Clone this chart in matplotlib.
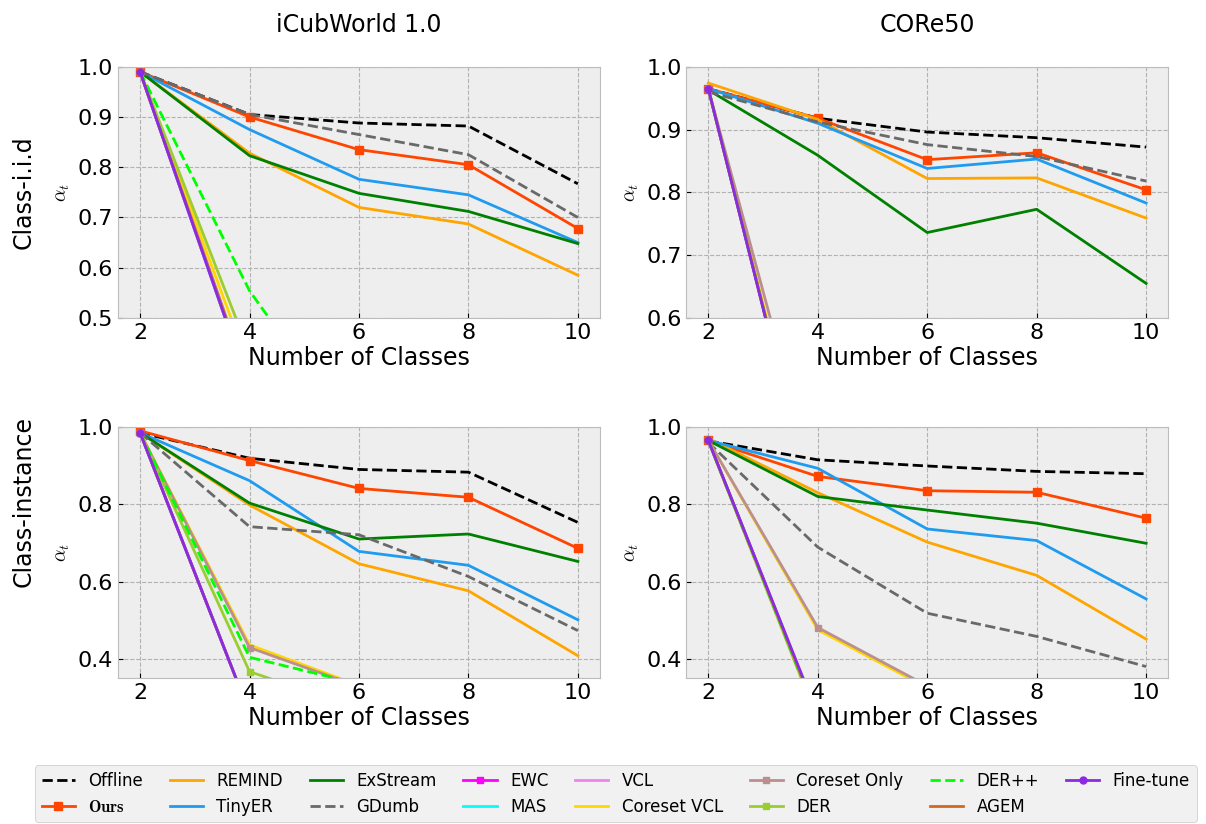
import numpy as np
import matplotlib
matplotlib.use('Agg')
import matplotlib.pyplot as plt

plt.style.use('bmh')

classes = [2, 4, 6, 8, 10]

methods = ['Offline', 'Ours', 'REMIND', 'TinyER', 'ExStream', 'GDumb', 'EWC', 'MAS',
           'VCL', 'Coreset VCL', 'Coreset Only', 'DER', 'DER++', 'AGEM', 'Fine-tune']

# values (points below the axis are rough guesses)
icub_iid = {
    'Offline':      [0.990, 0.905, 0.888, 0.882, 0.767],
    'Ours':         [0.990, 0.900, 0.835, 0.805, 0.678],
    'REMIND':       [0.990, 0.828, 0.720, 0.687, 0.585],
    'TinyER':       [0.990, 0.875, 0.776, 0.745, 0.650],
    'ExStream':     [0.990, 0.823, 0.748, 0.712, 0.648],
    'GDumb':        [0.990, 0.905, 0.865, 0.825, 0.700],
    'EWC':          [0.990, 0.360, 0.300, 0.250, 0.200],
    'MAS':          [0.990, 0.360, 0.300, 0.250, 0.200],
    'VCL':          [0.990, 0.360, 0.300, 0.250, 0.200],
    'Coreset VCL':  [0.990, 0.400, 0.320, 0.260, 0.210],
    'Coreset Only': [0.990, 0.370, 0.300, 0.250, 0.200],
    'DER':          [0.990, 0.430, 0.330, 0.270, 0.220],
    'DER++':        [0.990, 0.554, 0.250, 0.200, 0.150],
    'AGEM':         [0.990, 0.365, 0.300, 0.250, 0.200],
    'Fine-tune':    [0.990, 0.360, 0.300, 0.250, 0.200],
}

core_iid = {
    'Offline':      [0.965, 0.918, 0.896, 0.887, 0.872],
    'Ours':         [0.965, 0.918, 0.852, 0.863, 0.804],
    'REMIND':       [0.974, 0.916, 0.822, 0.823, 0.759],
    'TinyER':       [0.965, 0.910, 0.838, 0.853, 0.783],
    'ExStream':     [0.963, 0.859, 0.736, 0.773, 0.655],
    'GDumb':        [0.960, 0.912, 0.876, 0.857, 0.818],
    'EWC':          [0.965, 0.270, 0.220, 0.200, 0.180],
    'MAS':          [0.965, 0.270, 0.220, 0.200, 0.180],
    'VCL':          [0.965, 0.270, 0.220, 0.200, 0.180],
    'Coreset VCL':  [0.965, 0.280, 0.230, 0.200, 0.180],
    'Coreset Only': [0.965, 0.320, 0.250, 0.210, 0.190],
    'DER':          [0.965, 0.270, 0.220, 0.200, 0.180],
    'DER++':        [0.965, 0.270, 0.220, 0.200, 0.180],
    'AGEM':         [0.965, 0.270, 0.220, 0.200, 0.180],
    'Fine-tune':    [0.965, 0.265, 0.220, 0.200, 0.180],
}

icub_inst = {
    'Offline':      [0.985, 0.919, 0.890, 0.883, 0.753],
    'Ours':         [0.990, 0.913, 0.841, 0.818, 0.686],
    'REMIND':       [0.985, 0.798, 0.646, 0.576, 0.408],
    'TinyER':       [0.985, 0.861, 0.678, 0.642, 0.501],
    'ExStream':     [0.985, 0.803, 0.710, 0.723, 0.652],
    'GDumb':        [0.985, 0.742, 0.721, 0.613, 0.473],
    'EWC':          [0.985, 0.260, 0.220, 0.200, 0.180],
    'MAS':          [0.985, 0.260, 0.220, 0.200, 0.180],
    'VCL':          [0.985, 0.260, 0.220, 0.200, 0.180],
    'Coreset VCL':  [0.985, 0.436, 0.331, 0.300, 0.280],
    'Coreset Only': [0.985, 0.429, 0.328, 0.300, 0.280],
    'DER':          [0.985, 0.367, 0.270, 0.240, 0.220],
    'DER++':        [0.985, 0.404, 0.335, 0.300, 0.280],
    'AGEM':         [0.985, 0.260, 0.220, 0.200, 0.180],
    'Fine-tune':    [0.985, 0.260, 0.220, 0.200, 0.180],
}

core_inst = {
    'Offline':      [0.964, 0.915, 0.899, 0.885, 0.879],
    'Ours':         [0.965, 0.872, 0.835, 0.831, 0.764],
    'REMIND':       [0.970, 0.830, 0.702, 0.616, 0.451],
    'TinyER':       [0.965, 0.893, 0.736, 0.706, 0.555],
    'ExStream':     [0.965, 0.820, 0.785, 0.751, 0.699],
    'GDumb':        [0.960, 0.689, 0.518, 0.458, 0.380],
    'EWC':          [0.965, 0.250, 0.220, 0.200, 0.180],
    'MAS':          [0.965, 0.250, 0.220, 0.200, 0.180],
    'VCL':          [0.965, 0.250, 0.220, 0.200, 0.180],
    'Coreset VCL':  [0.965, 0.475, 0.325, 0.300, 0.280],
    'Coreset Only': [0.965, 0.481, 0.330, 0.300, 0.280],
    'DER':          [0.965, 0.240, 0.220, 0.200, 0.180],
    'DER++':        [0.965, 0.245, 0.220, 0.200, 0.180],
    'AGEM':         [0.965, 0.250, 0.220, 0.200, 0.180],
    'Fine-tune':    [0.965, 0.255, 0.220, 0.200, 0.180],
}

styles = {
    'Offline':      dict(c='black', ls='--'),
    'Ours':         dict(c='orangered', marker='s', ms=6),
    'REMIND':       dict(c='orange'),
    'TinyER':       dict(c='#1f9bef'),
    'ExStream':     dict(c='green'),
    'GDumb':        dict(c='dimgray', ls='--'),
    'EWC':          dict(c='magenta', marker='s', ms=5),
    'MAS':          dict(c='cyan'),
    'VCL':          dict(c='violet'),
    'Coreset VCL':  dict(c='gold'),
    'Coreset Only': dict(c='rosybrown', marker='s', ms=5),
    'DER':          dict(c='yellowgreen', marker='s', ms=5),
    'DER++':        dict(c='lime', ls='--'),
    'AGEM':         dict(c='chocolate'),
    'Fine-tune':    dict(c='blueviolet', marker='o', ms=5),
}

labels = {m: m for m in methods}
labels['Ours'] = r'$\mathbf{Ours}$'

panels = [
    (icub_iid, (0.5, 1.0), [0.5, 0.6, 0.7, 0.8, 0.9, 1.0]),
    (core_iid, (0.6, 1.0), [0.6, 0.7, 0.8, 0.9, 1.0]),
    (icub_inst, (0.35, 1.0), [0.4, 0.6, 0.8, 1.0]),
    (core_inst, (0.35, 1.0), [0.4, 0.6, 0.8, 1.0]),
]

fig, axes = plt.subplots(2, 2, figsize=(12.06, 8.24), dpi=100)
plt.subplots_adjust(left=0.098, right=0.9685, top=0.919, bottom=0.177,
                    wspace=0.18, hspace=0.434)

for ax, (data, ylim, yt) in zip(axes.flat, panels):
    for m in methods:
        ax.plot(classes, data[m], lw=2, label=labels[m], **styles[m])
    ax.set_xlim(1.6, 10.4)
    ax.set_ylim(*ylim)
    ax.set_xticks(classes)
    ax.set_yticks(yt)
    ax.set_yticklabels([f'{v:.1f}' for v in yt])
    ax.tick_params(labelsize=16)
    ax.set_xlabel('Number of Classes', fontsize=17, labelpad=2)
    ax.set_ylabel(r'$\alpha_t$', fontsize=14)
    ax.grid(True, ls='--', color='#b2b2b2', lw=0.8)
    ax.set_facecolor('#eeeeee')

axes[0, 0].set_title('iCubWorld 1.0', fontsize=17, pad=25)
axes[0, 1].set_title('CORe50', fontsize=17, pad=25)
fig.text(0.02, 0.767, 'Class-i.i.d', rotation=90, fontsize=17, ha='center', va='center')
fig.text(0.02, 0.391, 'Class-instance', rotation=90, fontsize=17, ha='center', va='center')

handles, labs = axes[0, 0].get_legend_handles_labels()
fig.legend(handles, labs, loc='upper left', bbox_to_anchor=(0.029, 0.071),
           ncol=8, fontsize=12, frameon=True, facecolor='#eeeeee',
           edgecolor='#bcbcbc', handlelength=2, columnspacing=1.6,
           labelspacing=0.45, borderaxespad=0)

fig.savefig('out.png', dpi=100, facecolor='white')
